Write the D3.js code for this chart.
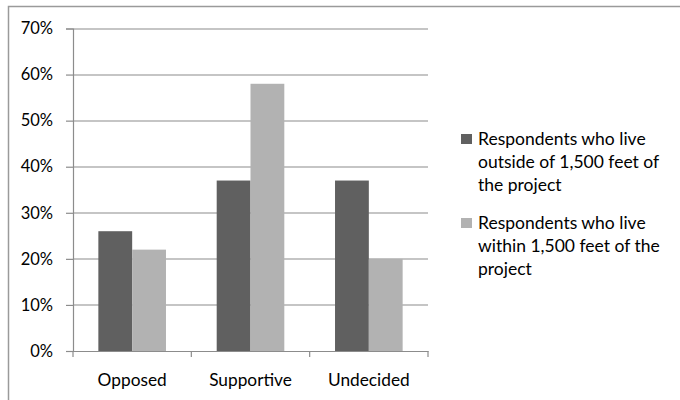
<!DOCTYPE html>
<html>
<head>
<meta charset="utf-8">
<script src="https://cdn.jsdelivr.net/npm/d3@7"></script>
<style>
  body { margin: 0; background: #fff; }
  text { font-family: Lato, "Open Sans", sans-serif; fill: #000; }
</style>
</head>
<body>
<div id="chart"></div>
<script>
// data
var categories = ["Opposed", "Supportive", "Undecided"];
var seriesNames = [
    ["Respondents who live", "outside of 1,500 feet of", "the project"],
    ["Respondents who live", "within 1,500 feet of the", "project"]
];
var outsideValues = [0.26, 0.37, 0.37];
var withinValues = [0.22, 0.58, 0.20];
var yTicks = [0, 0.1, 0.2, 0.3, 0.4, 0.5, 0.6, 0.7];

var colors = ["#606060", "#b2b2b2"];

var svgWidth = 680;
var svgHeight = 400;

// plot area
var margins = { top: 28.5, left: 73 };
var width = 355;
var height = 322.5;

var svg = d3.select("#chart")
    .append("svg")
    .attr("width", svgWidth)
    .attr("height", svgHeight);

// outer chart border (runs off the right and bottom edges)
svg.append("rect")
    .attr("x", 8.5)
    .attr("y", 6.5)
    .attr("width", 700)
    .attr("height", 420)
    .attr("fill", "none")
    .attr("stroke", "#9a9a9a")
    .attr("stroke-width", 1.5);

var chartGroup = svg.append("g")
    .attr("transform", `translate(${margins.left}, ${margins.top})`);

var xScale = d3.scaleBand()
    .domain(categories)
    .range([0, width]);

var xInner = d3.scaleBand()
    .domain([0, 1])
    .range([0, xScale.bandwidth()])
    .paddingInner(0)
    .paddingOuter(0.75);

var yScale = d3.scaleLinear()
    .domain([0, 0.7])
    .range([height, 0]);

// gridlines
chartGroup.append("g")
    .selectAll("line")
    .data(yTicks.slice(1))
    .enter()
    .append("line")
    .attr("x1", 0)
    .attr("x2", width)
    .attr("y1", d => Math.round(yScale(d)) + 0.5)
    .attr("y2", d => Math.round(yScale(d)) + 0.5)
    .attr("stroke", "#8c8c8c")
    .attr("stroke-width", 1.2);

// bars
var rows = categories.map((c, i) => ({ cat: c, vals: [outsideValues[i], withinValues[i]] }));

var groups = chartGroup.selectAll(".grp")
    .data(rows)
    .enter()
    .append("g")
    .attr("transform", d => `translate(${xScale(d.cat)}, 0)`);

groups.selectAll("rect")
    .data(d => d.vals)
    .enter()
    .append("rect")
    .attr("x", (d, i) => xInner(i))
    .attr("y", d => yScale(d))
    .attr("width", xInner.bandwidth())
    .attr("height", d => height - yScale(d))
    .attr("fill", (d, i) => colors[i]);

// y axis
var leftAxis = d3.axisLeft(yScale)
    .tickValues(yTicks)
    .tickFormat(d3.format(".0%"))
    .tickSize(7)
    .tickPadding(13);

var yAxis = chartGroup.append("g").call(leftAxis);
yAxis.select(".domain").attr("stroke", "#8c8c8c").attr("stroke-width", 1.2);
yAxis.selectAll(".tick line").attr("stroke", "#8c8c8c").attr("stroke-width", 1.2);
yAxis.selectAll("text").style("font-size", "16.5px").attr("fill", "#000");

// x axis
var bottomAxis = d3.axisBottom(xScale)
    .tickSize(0)
    .tickPadding(23);

var xAxis = chartGroup.append("g")
    .attr("transform", `translate(0, ${height})`)
    .call(bottomAxis);
xAxis.select(".domain").attr("stroke", "#8c8c8c").attr("stroke-width", 1.2);
xAxis.selectAll("text").style("font-size", "17.3px").attr("fill", "#000");

// category separator ticks
xAxis.selectAll(".sep")
    .data(d3.range(categories.length + 1))
    .enter()
    .append("line")
    .attr("x1", d => d * xScale.step())
    .attr("x2", d => d * xScale.step())
    .attr("y1", 0)
    .attr("y2", 6)
    .attr("stroke", "#8c8c8c")
    .attr("stroke-width", 1.2);

// legend
var legend = svg.append("g")
    .attr("transform", "translate(461, 134)");

var legendItems = legend.selectAll("g")
    .data(seriesNames)
    .enter()
    .append("g")
    .attr("transform", (d, i) => `translate(0, ${i * 84})`);

legendItems.append("rect")
    .attr("width", 11)
    .attr("height", 10)
    .attr("fill", (d, i) => colors[i]);

legendItems.append("text")
    .attr("x", 17)
    .attr("y", 11)
    .style("font-size", "17.5px")
    .selectAll("tspan")
    .data(d => d)
    .enter()
    .append("tspan")
    .attr("x", 17)
    .attr("dy", (d, i) => i === 0 ? 0 : 23)
    .text(d => d);
</script>
</body>
</html>
